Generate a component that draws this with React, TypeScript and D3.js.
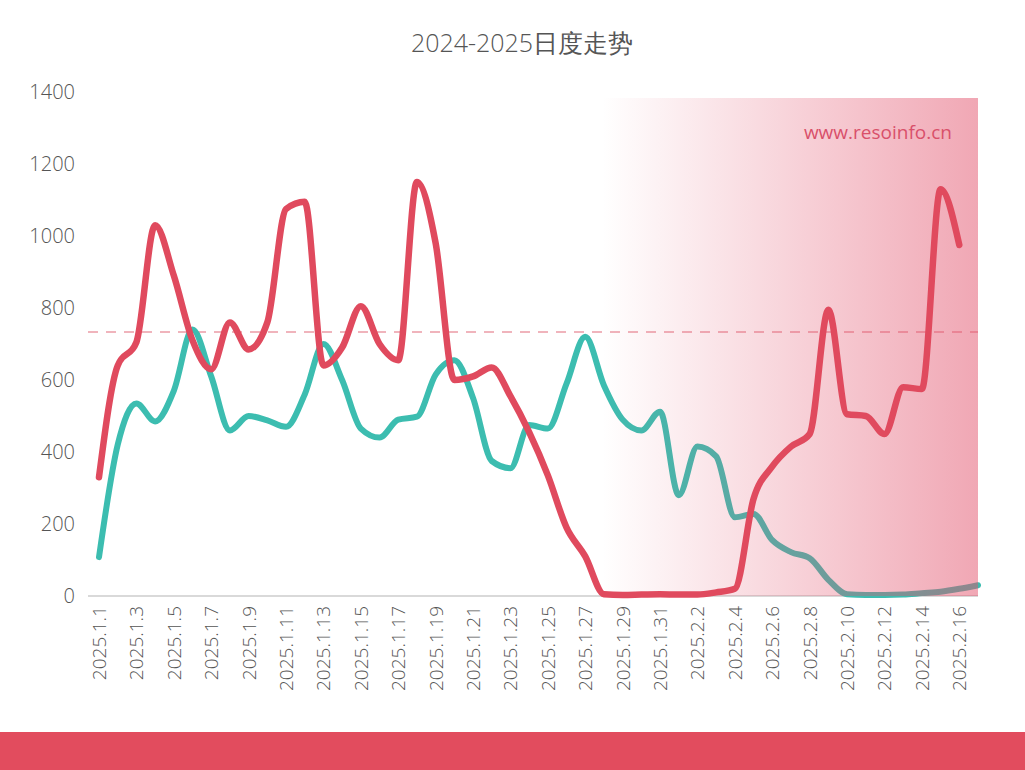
import React from "react";
import * as d3 from "d3";

const dates: string[] = [
  "2025.1.1","2025.1.2","2025.1.3","2025.1.4","2025.1.5","2025.1.6","2025.1.7","2025.1.8","2025.1.9","2025.1.10",
  "2025.1.11","2025.1.12","2025.1.13","2025.1.14","2025.1.15","2025.1.16","2025.1.17","2025.1.18","2025.1.19","2025.1.20",
  "2025.1.21","2025.1.22","2025.1.23","2025.1.24","2025.1.25","2025.1.26","2025.1.27","2025.1.28","2025.1.29","2025.1.30",
  "2025.1.31","2025.2.1","2025.2.2","2025.2.3","2025.2.4","2025.2.5","2025.2.6","2025.2.7","2025.2.8","2025.2.9",
  "2025.2.10","2025.2.11","2025.2.12","2025.2.13","2025.2.14","2025.2.15","2025.2.16","2025.2.17",
];

const redSeries: number[] = [
  330, 640, 705, 1030, 890, 710, 630, 760, 685, 760,
  1075, 1095, 640, 690, 805, 700, 655, 1150, 980, 600,
  610, 635, 555, 455, 335, 190, 110, 5, 3, 4,
  5, 4, 4, 10, 20, 270, 360, 415, 450, 795,
  505, 500, 450, 580, 575, 1130, 975,
];

const tealSeries: number[] = [
  108, 420, 535, 485, 570, 740, 610, 460, 500, 488,
  470, 560, 700, 600, 465, 440, 490, 498, 615, 655,
  550, 375, 355, 475, 465, 590, 720, 585, 490, 460,
  512, 280, 415, 388, 219, 228, 155, 122, 105, 45,
  5, 3, 3, 4, 8, 12, 20, 30,
];

const yTicks: number[] = [0, 200, 400, 600, 800, 1000, 1200, 1400];
const referenceValue = 733;
const shadeStart = "2025.1.28";
const titleText = "2024-2025日度走势";
const watermark = "www.resoinfo.cn";

export default function App() {
  const W = 1025, H = 770;
  const x = d3.scalePoint<string>().domain(dates).range([99, 978]);
  const y = d3.scaleLinear().domain([0, 1400]).range([596, 92]);

  const line = d3
    .line<number>()
    .x((_, i) => x(dates[i]) as number)
    .y((d) => y(d))
    .curve(d3.curveMonotoneX);

  const labelDates = dates.filter((_, i) => i % 2 === 0);
  const font = "'Open Sans', 'Noto Sans', sans-serif";
  const shadeX = x(shadeStart) as number;
  const right = 978;

  return (
    <svg width={W} height={H} style={{ position: "absolute", left: 0, top: 0, background: "#fff" }}>
      <defs>
        <linearGradient id="shade" x1="0" x2="1" y1="0" y2="0">
          <stop offset="0%" stopColor="#e2506a" stopOpacity={0} />
          <stop offset="100%" stopColor="#e2506a" stopOpacity={0.5} />
        </linearGradient>
      </defs>

      <text x={522} y={52} textAnchor="middle" fontFamily={font} fontWeight={300} fontSize={25} fill="#555">
        {titleText}
      </text>

      {yTicks.map((t) => (
        <text key={t} x={75} y={y(t) + 7} textAnchor="end" fontFamily={font} fontWeight={300} fontSize={20} fill="#555">
          {t}
        </text>
      ))}

      <line x1={88} x2={right} y1={y(0)} y2={y(0)} stroke="#d9d9d9" strokeWidth={2} />

      {labelDates.map((d) => (
        <text
          key={d}
          transform={`translate(${(x(d) as number) + 7},${606}) rotate(-90)`}
          textAnchor="end"
          fontFamily={font}
          fontWeight={300}
          fontSize={19}
          fill="#555"
        >
          {d}
        </text>
      ))}

      <line
        x1={88}
        x2={right}
        y1={y(referenceValue)}
        y2={y(referenceValue)}
        stroke="#f0b4bc"
        strokeWidth={2}
        strokeDasharray="10,8"
      />

      <path d={line(tealSeries) || ""} fill="none" stroke="#3cbdb0" strokeWidth={6} strokeLinecap="round" strokeLinejoin="round" />

      <rect x={shadeX - 2} y={98} width={right - shadeX + 2} height={y(0) - 98} fill="url(#shade)" />

      <path d={line(redSeries) || ""} fill="none" stroke="#e04a5e" strokeWidth={6.5} strokeLinecap="round" strokeLinejoin="round" />

      <text x={952} y={139} textAnchor="end" fontFamily={font} fontSize={19} fill="#d9506a">
        {watermark}
      </text>

      <rect x={0} y={732} width={W} height={H - 732} fill="#e24c5e" />
    </svg>
  );
}
